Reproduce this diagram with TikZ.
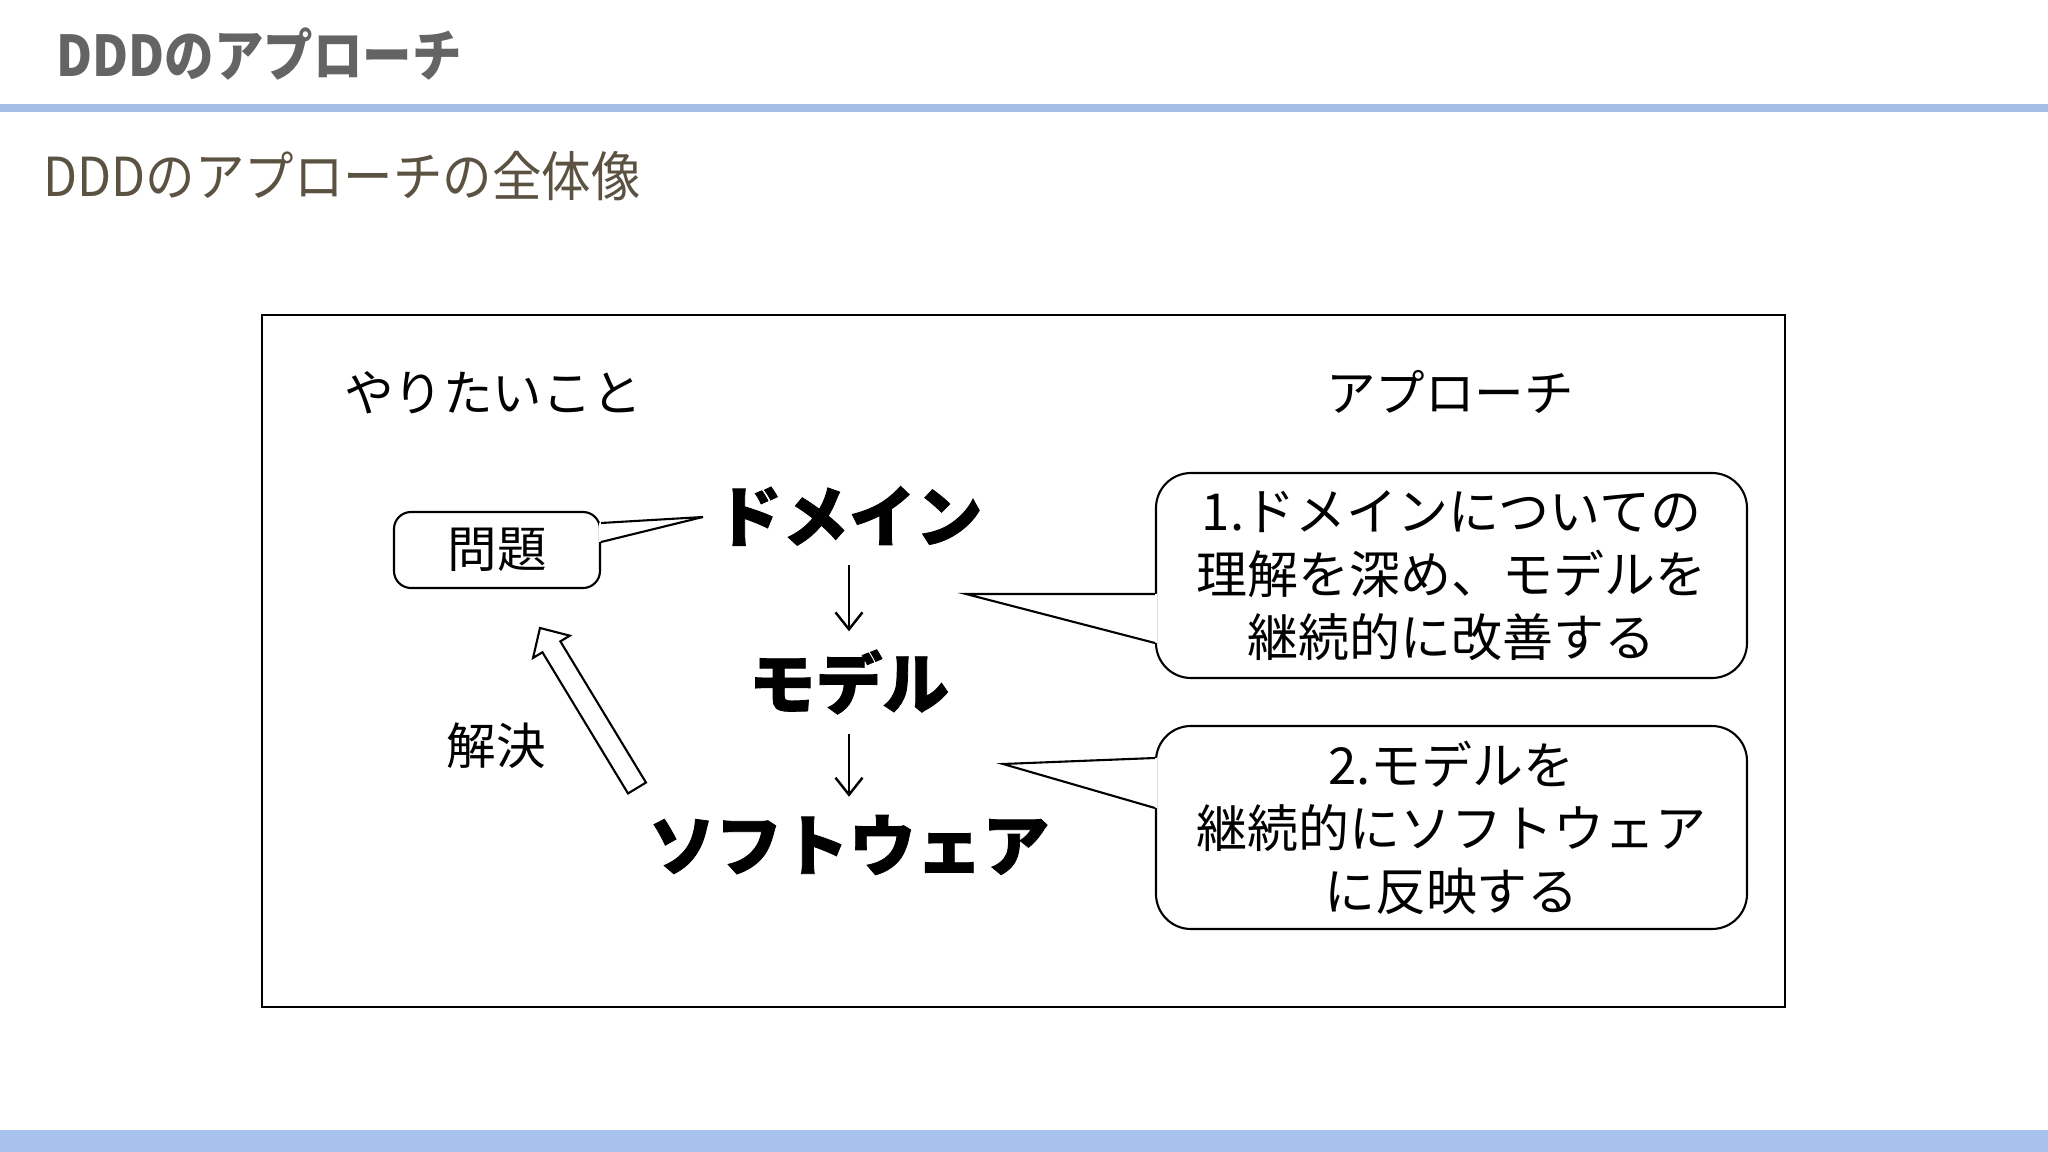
\documentclass[tikz,border=0pt]{standalone}
\usepackage{fontspec}
\setmainfont{Noto Sans CJK JP}
\newfontfamily\titlefont[FakeStretch=0.88]{Noto Sans CJK JP}
\newfontfamily\subtitlefont[FakeStretch=0.92]{Noto Sans CJK JP}
\newfontfamily\heavyfont[BoldFeatures={FakeBold=1.2}]{Noto Sans CJK JP}
\usetikzlibrary{arrows.meta,calc,positioning}
\definecolor{bandBlue}{HTML}{A8C2EE}
\definecolor{lineBlue}{HTML}{A4BDE6}
\definecolor{titleGray}{HTML}{646464}
\definecolor{subBrown}{HTML}{5B5242}
\newcommand\pageW{20.48}
\newcommand\pageH{11.52}
\newcommand\midCol{8.49}
\newcommand\shaftHalf{.105cm}
\newcommand\headHalf{.215cm}
\newcommand\headLen{.22cm}

\tikzset{
  label text/.style={font=\fontsize{14.1pt}{17pt}\selectfont, inner sep=0pt},
  big word/.style={font=\heavyfont\fontsize{19pt}{22pt}\selectfont\bfseries},
  bubble/.style={draw, line width=.6pt, rounded corners=.35cm, fill=white},
  bubble text/.style={font=\fontsize{14.5pt}{17.9pt}\selectfont, align=center},
  flow arrow/.style={line width=.7pt, shorten <=.07cm, shorten >=.06cm, -{Straight Barb[length=.17cm, width=.27cm]}},
}

\begin{document}
\begin{tikzpicture}
    \useasboundingbox (0,0) rectangle (\pageW,-\pageH);
    \fill[white] (0,0) rectangle (\pageW,-\pageH);

    %% header
    \node[anchor=west, inner sep=0pt, font=\titlefont\fontsize{16pt}{19pt}\selectfont\bfseries, text=titleGray] (title) at (.56,-.54) {DDDのアプローチ};
    \fill[lineBlue] (0,-1.04) rectangle (\pageW,-1.12);
    \node[anchor=west, inner sep=0pt, font=\subtitlefont\fontsize{15.3pt}{18pt}\selectfont, text=subBrown] (subtitle) at (.43,-1.76) {DDDのアプローチの全体像};
    \fill[bandBlue] (0,-11.30) rectangle (\pageW,-\pageH);

    %% frame
    \draw[line width=.6pt] (2.62,-3.15) rectangle (17.85,-10.07);

    \node[label text] (want) at (4.93,-3.93) {やりたいこと};
    \node[label text] (approach) at (14.50,-3.92) {アプローチ};

    %% middle column
    \node[big word] (domain) at (\midCol,-5.16) {ドメイン};
    \node[big word] (model) at (\midCol,-6.82) {モデル};
    \node[big word] (software) at (\midCol,-8.45) {ソフトウェア};
    \draw[flow arrow] (domain) -- (model);
    \draw[flow arrow] (model) -- (software);

    %% problem box
    \node[draw, line width=.6pt, rounded corners=.17cm, minimum width=2.06cm, minimum height=.76cm, label text] (problem) at (4.97,-5.50) {問題};
    \coordinate (problemTip) at (7.03,-5.17);
    \fill[white] ($(problem.east)+(-.02,.27)$) -- (problemTip) -- ($(problem.east)+(-.02,.08)$) -- cycle;
    \draw[line width=.6pt] ($(problem.east)+(0,.27)$) -- (problemTip) -- ($(problem.east)+(0,.08)$);

    %% approach bubbles
    \node[bubble, bubble text, minimum width=5.91cm, minimum height=2.05cm] (stepOne) at (14.515,-5.755) {1.ドメインについての\\理解を深め、モデルを\\継続的に改善する};
    \node[bubble, bubble text, minimum width=5.91cm, minimum height=2.03cm] (stepTwo) at (14.515,-8.275) {2.モデルを\\継続的にソフトウェア\\に反映する};

    \foreach \bub/\tipx/\tipy/\up/\down in {stepOne/9.66/-5.94/-.185/-.675, stepTwo/10.03/-7.64/.695/.195}{
      \coordinate (\bub Tip) at (\tipx,\tipy);
      \fill[white] ($(\bub.west)+(.02,\up)$) -- (\bub Tip) -- ($(\bub.west)+(.02,\down)$) -- cycle;
      \draw[line width=.6pt] ($(\bub.west)+(0,\up)$) -- (\bub Tip) -- ($(\bub.west)+(0,\down)$);
    }

    %% hollow arrow for solving
    \node[label text] (solve) at (4.96,-7.46) {解決};
    \coordinate (solveTail) at (6.37,-7.88);
    \coordinate (solveTip) at (5.40,-6.28);
    \coordinate (solveBase) at ($(solveTip)!\headLen!(solveTail)$);
    \draw[line width=.6pt, fill=white, line join=miter]
      ($(solveTail)!\shaftHalf!90:(solveTip)$) -- ($(solveBase)!\shaftHalf!90:(solveTip)$)
      -- ($(solveBase)!\headHalf!90:(solveTip)$) -- (solveTip)
      -- ($(solveBase)!\headHalf!-90:(solveTip)$) -- ($(solveBase)!\shaftHalf!-90:(solveTip)$)
      -- ($(solveTail)!\shaftHalf!-90:(solveTip)$) -- cycle;

\end{tikzpicture}
\end{document}
